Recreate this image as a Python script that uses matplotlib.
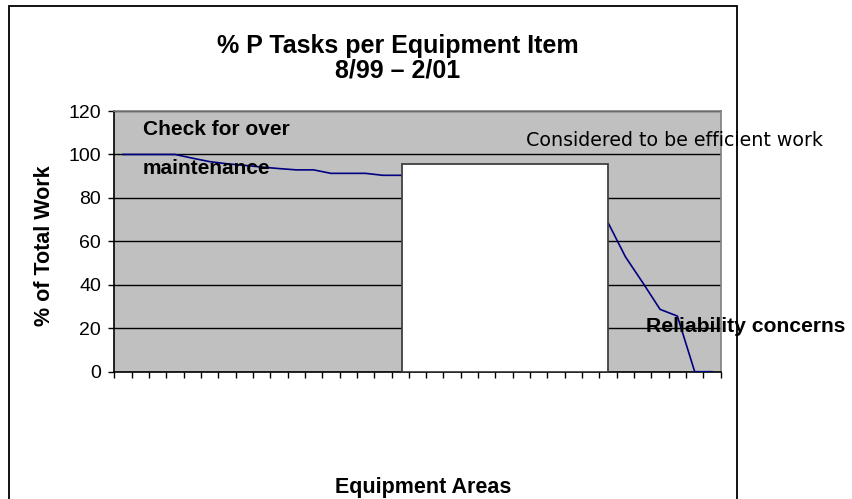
import numpy as np
import matplotlib
matplotlib.use("Agg")
import matplotlib.pyplot as plt
from matplotlib.patches import Rectangle

# data #############################################################
n_areas = 35
pct_p_tasks = [100, 100, 100, 100, 98.3, 96.7, 95.7, 95.0, 94.2, 93.5,
               92.9, 92.9, 91.3, 91.3, 91.3, 90.4, 90.4, 90, 89, 89,
               88, 87, 86, 85, 83, 81, 78, 74, 68.6, 52.9,
               41, 28.7, 25.6, 0, 0]
y_ticks = [0, 20, 40, 60, 80, 100, 120]
title = "% P Tasks per Equipment Item\n8/99 \u2013 2/01"

W, H = 852, 499
plt.rcParams['font.family'] = ['Liberation Sans', 'DejaVu Sans']

fig = plt.figure(figsize=(W / 100, H / 100), dpi=100)

# pixel helpers
def fx(px):
    return px / W

def fy(py):
    return 1 - py / H

left, right, top, bottom = 114.3, 720.7, 111, 371.7
ax = fig.add_axes([fx(left), fy(bottom), fx(right - left), (bottom - top) / H])
ax.set_facecolor("#c0c0c0")

x = np.arange(n_areas) + 0.5
ax.plot(x, pct_p_tasks, color="#000080", lw=1.2, zorder=3)

ax.set_xlim(0, n_areas)
ax.set_ylim(0, 120)
ax.set_yticks(y_ticks)
ax.set_xticks(np.arange(n_areas + 1))
ax.set_xticklabels([])
ax.tick_params(axis="y", direction="out", length=4.5, width=1, pad=5,
               labelsize=14, color="black")
ax.tick_params(axis="x", direction="out", length=4.5, width=1)
ax.yaxis.grid(True, color="black", lw=1)
ax.set_axisbelow(True)
for s in ["left", "bottom"]:
    ax.spines[s].set_color("black")
    ax.spines[s].set_linewidth(1.2)
for s in ["top", "right"]:
    ax.spines[s].set_color("#808080")
    ax.spines[s].set_linewidth(1.2)

# white box over the middle
box = Rectangle((16.6, 0), 28.5 - 16.6, 95.5, facecolor="white",
                edgecolor="#404040", lw=1.3, zorder=4)
ax.add_patch(box)

# texts (baseline of the last title line)
fig.text(fx(398), fy(78), title, ha="center", va="baseline",
         fontsize=18, fontweight="bold", linespacing=1.05)
fig.text(fx(45), fy(246), "% of Total Work", rotation=90, ha="center",
         va="center", fontsize=15.5, fontweight="bold")
fig.text(fx(423), fy(487), "Equipment Areas", ha="center", va="center",
         fontsize=15.5, fontweight="bold")
fig.text(fx(142.7), fy(135), "Check for over", ha="left", va="baseline",
         fontsize=15, fontweight="bold", zorder=5)
fig.text(fx(142.7), fy(174), "maintenance", ha="left", va="baseline",
         fontsize=15, fontweight="bold", zorder=5)
fig.text(fx(526), fy(145.7), "Considered to be efficient work", ha="left",
         va="baseline", fontsize=13.7, family="DejaVu Sans", zorder=5)
fig.text(fx(646), fy(331.7), "Reliability concerns", ha="left",
         va="baseline", fontsize=15.2, fontweight="bold", zorder=5)

# outer frame, open at the bottom
frame = Rectangle((fx(8.5), fy(H + 20)), fx(736.7 - 8.5), (H + 20 - 5.5) / H,
                  transform=fig.transFigure, fill=False, edgecolor="black",
                  lw=1.3, clip_on=False, zorder=6)
fig.patches.append(frame)

fig.savefig("out.png", dpi=100)
